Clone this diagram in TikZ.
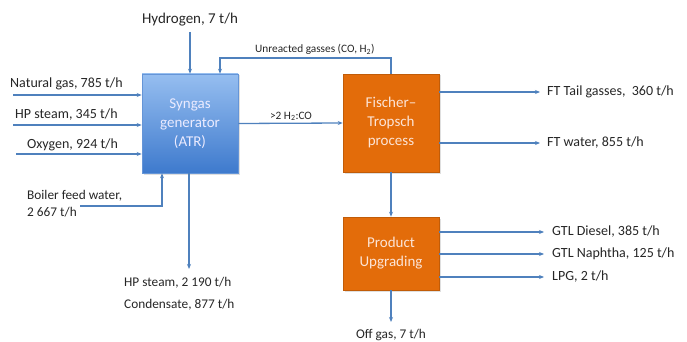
\documentclass[tikz,border=0pt]{standalone}
\usepackage{fontspec}
\setmainfont{Carlito}
\usetikzlibrary{arrows.meta,shadows}
\definecolor{arr}{RGB}{79,129,189}
\definecolor{txt}{RGB}{38,38,38}
\definecolor{orng}{RGB}{227,108,10}
\definecolor{bluetop}{RGB}{150,190,240}
\definecolor{bluebot}{RGB}{62,122,205}
\definecolor{peach}{RGB}{252,228,214}
\tikzset{
  flow/.style={draw=arr, line width=1.3pt, -{Stealth[length=5pt,width=4pt]}},
  bigtxt/.style={font=\fontsize{14}{16}\selectfont, text=txt, inner sep=0pt},
  h2txt/.style={font=\fontsize{15}{17}\selectfont, text=txt, inner sep=0pt},
  smalltxt/.style={font=\fontsize{13.3}{15}\selectfont, text=txt, inner sep=0pt},
  tinytxt/.style={font=\fontsize{11.3}{13}\selectfont, text=txt, inner sep=0pt},
  bluebox/.style={top color=bluetop, bottom color=bluebot, draw=bluebot!80!white, line width=0.6pt,
    minimum width=96pt, minimum height=99pt, align=center, text=white!92!blue,
    font=\fontsize{15}{19}\selectfont, drop shadow={opacity=0.25, shadow xshift=1.5pt, shadow yshift=-1.5pt}},
  orangebox/.style={fill=orng, draw=orng!85!black, line width=0.6pt,
    align=center, text=peach, font=\fontsize{15}{19}\selectfont,
    drop shadow={opacity=0.25, shadow xshift=1.5pt, shadow yshift=-1.5pt}}
}
\begin{document}
\begin{tikzpicture}[x=1pt,y=-1pt]
\useasboundingbox (0,0) rectangle (687,342);
% boxes
\node[bluebox] (syn) at (190,123.5) {Syngas\\generator\\(ATR)};
\node[orangebox, minimum width=96pt, minimum height=98pt] (ft) at (391,123) {Fischer–\\Tropsch\\process};
\node[orangebox, minimum width=96pt, minimum height=73pt] (pu) at (391,253.5) {Product\\Upgrading};
% inputs left
\node[bigtxt, anchor=base west] (ng) at (10,88) {Natural gas, 785 t/h};
\node[bigtxt, anchor=base west] (hps) at (15,118) {HP steam, 345 t/h};
\node[bigtxt, anchor=base west] (oxy) at (27,148) {Oxygen, 924 t/h};
\coordinate (ngS) at (13,95);
\coordinate (hpsS) at (13,125);
\coordinate (oxyS) at (16,154);
\draw[flow] (ngS) -- (ngS -| syn.west);
\draw[flow] (hpsS) -- (hpsS -| syn.west);
\draw[flow] (oxyS) -- (oxyS -| syn.west);
% hydrogen
\node[h2txt, anchor=base] (h2) at (190,24) {Hydrogen, 7 t/h};
\coordinate (h2S) at (190,32);
\draw[flow] (h2S) -- (syn.north);
% recycle
\node[tinytxt, anchor=base west] (unr) at (255,53) {Unreacted gasses (CO, H\textsubscript{2})};
\coordinate (rc1) at (391,58);
\coordinate (rc2) at (220,58);
\draw[flow] (ft.north) -- (rc1) -- (rc2) -- (rc2 |- syn.north);
% syngas to FT
\node[tinytxt, anchor=base] (ratio) at (291,119) {>2 H\textsubscript{2}:CO};
\draw[flow] (syn.east) -- (ft.west);
% FT outputs
\node[bigtxt, anchor=west] (tail) at (547,92) {FT Tail gasses,\ \ 360 t/h};
\node[bigtxt, anchor=west] (ftw) at (547,143) {FT water, 855 t/h};
\coordinate (tailS) at (ft.east |- tail.west);
\coordinate (ftwS) at (ft.east |- ftw.west);
\draw[flow] (tailS) -- ([xshift=-7pt]tail.west);
\draw[flow] (ftwS) -- ([xshift=-7pt]ftw.west);
% FT to upgrading
\draw[flow] (ft.south) -- (pu.north);
% upgrading outputs
\node[bigtxt, anchor=west] (dsl) at (552,232) {GTL Diesel, 385 t/h};
\node[bigtxt, anchor=west] (nap) at (552,254) {GTL Naphtha, 125 t/h};
\node[bigtxt, anchor=west] (lpg) at (552,277) {LPG, 2 t/h};
\draw[flow] (pu.east |- dsl.west) -- ([xshift=-8pt]dsl.west);
\draw[flow] (pu.east |- nap.west) -- ([xshift=-8pt]nap.west);
\draw[flow] (pu.east |- lpg.west) -- ([xshift=-8pt]lpg.west);
% off gas
\node[smalltxt, anchor=base] (off) at (391,338) {Off gas, 7 t/h};
\coordinate (offE) at (391,322);
\draw[flow] (pu.south) -- (offE);
% boiler feed water
\node[smalltxt, anchor=base west] (bfw) at (27,199) {Boiler feed water,};
\node[smalltxt, anchor=base west] (bfw2) at (27,216) {2 667 t/h};
\coordinate (bfwS) at (80,206);
\coordinate (bfwC) at (162,206);
\draw[flow] (bfwS) -- (bfwC) -- (bfwC |- syn.south);
% HP steam out
\node[smalltxt, anchor=base west] (hpo) at (124,286) {HP steam, 2 190 t/h};
\node[smalltxt, anchor=base west] (cond) at (124,308) {Condensate, 877 t/h};
\coordinate (hpoE) at (189,269);
\draw[flow] (syn.south -| hpoE) -- (hpoE);
\end{tikzpicture}
\end{document}
